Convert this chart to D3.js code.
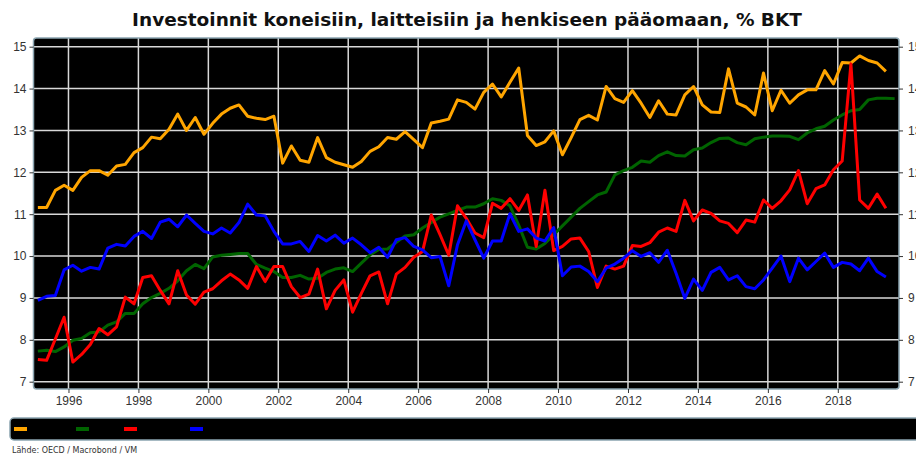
<!DOCTYPE html>
<meta charset="utf-8">
<style>
body { margin: 0; background: #fff; }
svg { display: block; font-family: "DejaVu Sans", Verdana, sans-serif; }
.axis text { font-size: 12px; fill: #333; }
.axis path { display: none; }
.axis line { stroke: #333; }
.grid line { stroke: #d8d8d8; stroke-width: 1.5px; }
.series { fill: none; stroke-width: 3px; stroke-linejoin: round; }
</style>
<svg width="916" height="454"></svg>
<script src="https://d3js.org/d3.v7.min.js"></script>
<script>

// quarterly series, 1995Q1 onwards
var startYear = 1995;

var orange = [11.16, 11.16, 11.57, 11.69, 11.57, 11.88, 12.04, 12.04, 11.93, 12.15,
  12.19, 12.47, 12.59, 12.84, 12.80, 13.03, 13.39, 13.00, 13.31, 12.91,
  13.17, 13.39, 13.53, 13.61, 13.34, 13.29, 13.26, 13.34, 12.22, 12.63,
  12.29, 12.24, 12.83, 12.35, 12.24, 12.18, 12.12, 12.26, 12.50, 12.61,
  12.83, 12.79, 12.97, 12.78, 12.59, 13.18, 13.22, 13.27, 13.73, 13.67,
  13.51, 13.91, 14.11, 13.80, 14.15, 14.49, 12.88, 12.64, 12.73, 12.99,
  12.42, 12.83, 13.26, 13.36, 13.25, 14.05, 13.76, 13.67, 13.95, 13.65,
  13.31, 13.71, 13.39, 13.37, 13.85, 14.05, 13.61, 13.44, 13.43, 14.47,
  13.65, 13.56, 13.37, 14.37, 13.47, 13.96, 13.65, 13.85, 13.97, 13.97,
  14.43, 14.11, 14.62, 14.61, 14.78, 14.67, 14.61, 14.41];

var green = [7.73, 7.75, 7.72, 7.83, 7.99, 8.03, 8.17, 8.19, 8.35, 8.43,
  8.63, 8.63, 8.86, 9.01, 9.11, 9.23, 9.41, 9.65, 9.80, 9.70,
  9.98, 10.02, 10.04, 10.06, 10.06, 9.80, 9.71, 9.63, 9.49, 9.49,
  9.54, 9.45, 9.47, 9.61, 9.69, 9.72, 9.63, 9.83, 10.03, 10.16,
  10.17, 10.33, 10.48, 10.51, 10.67, 10.80, 10.93, 11.01, 11.09, 11.17,
  11.17, 11.25, 11.37, 11.33, 11.20, 10.74, 10.21, 10.17, 10.30, 10.51,
  10.72, 10.93, 11.14, 11.30, 11.46, 11.53, 11.94, 12.04, 12.12, 12.27,
  12.24, 12.40, 12.49, 12.40, 12.39, 12.54, 12.58, 12.71, 12.81, 12.82,
  12.71, 12.66, 12.80, 12.84, 12.87, 12.87, 12.86, 12.78, 12.94, 13.04,
  13.10, 13.25, 13.37, 13.47, 13.50, 13.73, 13.77, 13.77, 13.76];

var red = [7.53, 7.51, 8.02, 8.54, 7.47, 7.65, 7.89, 8.27, 8.12, 8.31,
  9.02, 8.86, 9.49, 9.53, 9.18, 8.86, 9.65, 9.07, 8.85, 9.14,
  9.22, 9.41, 9.57, 9.43, 9.23, 9.75, 9.39, 9.75, 9.75, 9.27,
  9.01, 9.09, 9.69, 8.74, 9.18, 9.43, 8.66, 9.11, 9.53, 9.62,
  8.86, 9.57, 9.73, 9.97, 10.11, 10.98, 10.51, 10.02, 11.20, 10.90,
  10.55, 10.44, 11.26, 11.14, 11.37, 11.09, 11.46, 10.23, 11.57, 10.13,
  10.23, 10.41, 10.43, 10.11, 9.25, 9.76, 9.69, 9.76, 10.25, 10.23,
  10.32, 10.57, 10.67, 10.59, 11.33, 10.84, 11.10, 11.02, 10.84, 10.78,
  10.56, 10.86, 10.81, 11.34, 11.14, 11.32, 11.58, 12.04, 11.25, 11.61,
  11.70, 12.06, 12.27, 14.59, 11.34, 11.14, 11.48, 11.14];

var blue = [8.94, 9.04, 9.06, 9.67, 9.78, 9.64, 9.73, 9.69, 10.19, 10.28,
  10.24, 10.47, 10.59, 10.42, 10.81, 10.88, 10.70, 10.98, 10.78, 10.59,
  10.53, 10.67, 10.55, 10.80, 11.24, 10.98, 10.96, 10.59, 10.29, 10.29,
  10.35, 10.11, 10.49, 10.36, 10.50, 10.31, 10.43, 10.27, 10.08, 10.21,
  9.97, 10.39, 10.44, 10.23, 10.15, 9.96, 9.99, 9.29, 10.27, 10.84,
  10.39, 9.95, 10.36, 10.36, 11.01, 10.59, 10.65, 10.43, 10.36, 10.68,
  9.53, 9.74, 9.76, 9.63, 9.39, 9.71, 9.81, 9.95, 10.13, 9.99,
  10.08, 9.85, 10.14, 9.59, 8.99, 9.45, 9.18, 9.61, 9.73, 9.43,
  9.53, 9.27, 9.22, 9.43, 9.71, 10.00, 9.39, 9.95, 9.67, 9.87,
  10.07, 9.73, 9.85, 9.81, 9.65, 9.95, 9.63, 9.50];

var yearTicks = [1996, 1998, 2000, 2002, 2004, 2006, 2008, 2010, 2012, 2014, 2016, 2018];
var valueTicks = [7, 8, 9, 10, 11, 12, 13, 14, 15];

var series = [
  {name: "orange", color: "#ffa500", values: orange},
  {name: "green", color: "#006400", values: green},
  {name: "red", color: "#ff0000", values: red},
  {name: "blue", color: "#0000ff", values: blue}
];

var svg = d3.select("svg"),
    box = {left: 33.5, right: 899, top: 38, bottom: 389};

var x = d3.scaleLinear()
    .domain([1995, 2019.75])
    .range([box.left, box.right]);

var y = d3.scaleLinear()
    .domain([7, 15])
    .range([381.7, 46.7]);

// title
svg.append("text")
    .attr("x", 467)
    .attr("y", 26)
    .attr("text-anchor", "middle")
    .style("font-size", "18.5px")
    .style("font-weight", "bold")
    .attr("fill", "#111")
    .text("Investoinnit koneisiin, laitteisiin ja henkiseen pääomaan, % BKT");

// plot background
svg.append("rect")
    .attr("x", box.left)
    .attr("y", box.top)
    .attr("width", box.right - box.left)
    .attr("height", box.bottom - box.top)
    .attr("rx", 3)
    .attr("fill", "#000");

var grid = svg.append("g").attr("class", "grid");

grid.selectAll(".h")
  .data(valueTicks)
  .enter().append("line")
    .attr("x1", box.left)
    .attr("x2", box.right)
    .attr("y1", function(d) { return y(d); })
    .attr("y2", function(d) { return y(d); });

grid.selectAll(".v")
  .data(yearTicks)
  .enter().append("line")
    .attr("x1", function(d) { return x(d); })
    .attr("x2", function(d) { return x(d); })
    .attr("y1", box.top)
    .attr("y2", box.bottom);

var line = d3.line()
    .x(function(d, i) { return x(startYear + 0.125 + 0.25 * i); })
    .y(function(d) { return y(d); });

svg.selectAll(".series")
  .data(series)
  .enter().append("path")
    .attr("class", "series")
    .attr("stroke", function(d) { return d.color; })
    .attr("d", function(d) { return line(d.values); });

// frame on top
svg.append("rect")
    .attr("x", box.left)
    .attr("y", box.top)
    .attr("width", box.right - box.left)
    .attr("height", box.bottom - box.top)
    .attr("rx", 3)
    .attr("fill", "none")
    .attr("stroke", "#8aa4b0")
    .attr("stroke-width", 1.5);

svg.append("g")
    .attr("class", "axis")
    .attr("transform", "translate(" + box.left + ",0)")
    .call(d3.axisLeft(y).tickValues(valueTicks).tickSize(4).tickPadding(3).tickFormat(d3.format("d")));

svg.append("g")
    .attr("class", "axis")
    .attr("transform", "translate(" + box.right + ",0)")
    .call(d3.axisRight(y).tickValues(valueTicks).tickSize(4).tickPadding(5).tickFormat(d3.format("d")));

svg.append("g")
    .attr("class", "axis")
    .attr("transform", "translate(0," + box.bottom + ")")
    .call(d3.axisBottom(x).tickValues(yearTicks).tickSize(4).tickPadding(3).tickFormat(d3.format("d")));

// legend strip
svg.append("rect")
    .attr("x", 10)
    .attr("y", 418)
    .attr("width", 930)
    .attr("height", 22)
    .attr("rx", 4)
    .attr("fill", "#000")
    .attr("stroke", "#8aa4b0")
    .attr("stroke-width", 1.5);

var legendX = [14, 76, 124, 190];

svg.selectAll(".swatch")
  .data(series)
  .enter().append("rect")
    .attr("x", function(d, i) { return legendX[i]; })
    .attr("y", 427)
    .attr("width", 13)
    .attr("height", 4)
    .attr("fill", function(d) { return d.color; });

svg.append("text")
    .attr("x", 12)
    .attr("y", 453)
    .style("font-size", "8px")
    .attr("fill", "#333")
    .text("Lähde: OECD / Macrobond / VM");

</script>
